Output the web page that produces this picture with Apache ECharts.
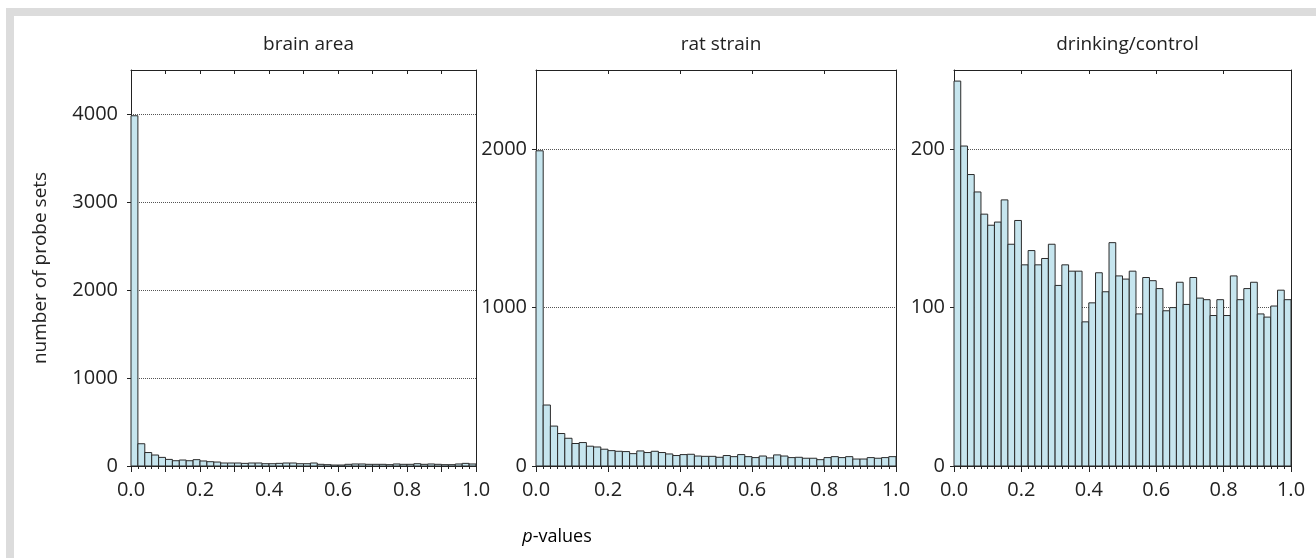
<!DOCTYPE html>
<html><head><meta charset="utf-8">
<script src="https://cdn.jsdelivr.net/npm/echarts@6/dist/echarts.min.js"></script>
<style>html,body{margin:0;padding:0;background:#fff}#c{width:1316px;height:558px}</style>
</head><body><div id="c"></div>
<script>
// bin width 0.02, 50 bins from 0 to 1
var binWidth = 0.02;
var titles = ['brain area', 'rat strain', 'drinking/control'];
var brainArea = [3980, 253, 153, 125, 98, 75, 60, 68, 60, 72, 57, 49, 45, 34, 34, 34, 30, 34, 34, 26,
  26, 30, 34, 34, 26, 26, 34, 19, 15, 11, 11, 19, 23, 23, 19, 19, 19, 15, 23, 19,
  19, 26, 19, 23, 19, 15, 15, 23, 30, 23];
var ratStrain = [1990, 385, 252, 205, 175, 142, 148, 125, 120, 106, 97, 93, 91, 78, 95, 85, 93, 85, 76, 66,
  72, 74, 63, 61, 61, 55, 66, 59, 72, 59, 53, 63, 51, 70, 63, 53, 55, 49, 49, 40,
  53, 59, 53, 59, 44, 44, 53, 49, 53, 59];
var drinkingControl = [243, 202, 184, 173, 159, 152, 154, 168, 140, 155, 127, 136, 127, 131, 140, 114, 127, 123, 123, 91,
  103, 122, 110, 141, 120, 118, 123, 96, 119, 117, 112, 98, 100, 116, 102, 119, 106, 105, 95, 105,
  95, 120, 105, 112, 116, 96, 94, 101, 111, 105];
var yMax = [4500, 2500, 250];
var yInterval = [1000, 1000, 100];
var xMajor = [0.1, 0.2, 0.2];
var xLabels = ['0.0', '0.2', '0.4', '0.6', '0.8', '1.0'];
var yLabelText = 'number of probe sets';
var xLabelItalic = 'p';
var xLabelRest = '-values';

var seriesValues = [brainArea, ratStrain, drinkingControl];
var panels = [
  {left: 131, width: 345, labelMargin: 13},
  {left: 536, width: 360, labelMargin: 9},
  {left: 954, width: 337, labelMargin: 9}
];
var TOP = 70, HEIGHT = 396;
var FONT = '"Open Sans", sans-serif';
var TXT = '#222';

var option = {
  animation: false,
  backgroundColor: '#fff',
  title: [], grid: [], xAxis: [], yAxis: [], series: [],
  graphic: [
    {type: 'rect', shape: {x: 6, y: 8, width: 1310, height: 8}, style: {fill: '#dcdcdc'}, silent: true},
    {type: 'rect', shape: {x: 6, y: 8, width: 8, height: 550}, style: {fill: '#dcdcdc'}, silent: true},
    {type: 'text', x: 41, y: TOP + HEIGHT / 2, rotation: Math.PI / 2,
      style: {text: yLabelText, font: '19px ' + FONT, fill: TXT, align: 'center', verticalAlign: 'middle'}},
    {type: 'text', x: 557, y: 537,
      style: {text: '{i|' + xLabelItalic + '}{n|' + xLabelRest + '}', align: 'center', verticalAlign: 'middle',
        rich: {i: {fontStyle: 'italic', fontSize: 18, fontFamily: FONT, color: TXT},
               n: {fontSize: 18, fontFamily: FONT, color: TXT}}}}
  ]
};

panels.forEach(function (p, k) {
  option.title.push({text: titles[k], left: p.left + p.width / 2, top: 30, textAlign: 'center',
    textStyle: {fontFamily: FONT, fontSize: 19, fontWeight: 'normal', color: TXT}});
  option.grid.push({left: p.left, top: TOP, width: p.width, height: HEIGHT, containLabel: false});
  var ax = {
    type: 'value', gridIndex: k, min: 0, max: 1, interval: xMajor[k], position: 'bottom',
    axisLine: {show: true, onZero: false, lineStyle: {color: '#222', width: 1}},
    axisTick: {show: true, length: 6, inside: false, lineStyle: {color: '#222'}},
    minorTick: {show: true, splitNumber: Math.round(xMajor[k] / binWidth), length: 3, lineStyle: {color: '#222'}},
    axisLabel: {margin: 14, fontFamily: FONT, fontSize: 20, color: TXT,
      formatter: function (v) {
        var s = v.toFixed(1);
        return xLabels.indexOf(s) >= 0 && Math.round(v * 10) % 2 === 0 ? s : '';
      }},
    splitLine: {show: false}
  };
  var axTop = {
    type: 'value', gridIndex: k, min: 0, max: 1, interval: xMajor[k], position: 'top',
    axisLine: {show: true, onZero: false, lineStyle: {color: '#222', width: 1}},
    axisTick: {show: true, inside: true, length: 4, lineStyle: {color: '#222'}},
    axisLabel: {show: false}, splitLine: {show: false}
  };
  option.xAxis.push(ax, axTop);
  var yl = {
    type: 'value', gridIndex: k, min: 0, max: yMax[k], interval: yInterval[k], position: 'left',
    axisLine: {show: true, onZero: false, lineStyle: {color: '#222', width: 1}},
    axisTick: {show: true, length: 4, lineStyle: {color: '#222'}},
    axisLabel: {margin: p.labelMargin, fontFamily: FONT, fontSize: 20, color: TXT, showMaxLabel: false,
      formatter: function (v) { return (v % yInterval[k] === 0) ? String(v) : ''; }},
    splitLine: {show: true, showMinLine: false, showMaxLine: false, lineStyle: {color: '#555', type: [1, 1], width: 1}}
  };
  var yr = {
    type: 'value', gridIndex: k, min: 0, max: yMax[k], interval: yInterval[k], position: 'right',
    axisLine: {show: true, onZero: false, lineStyle: {color: '#222', width: 1}},
    axisTick: {show: false}, axisLabel: {show: false}, splitLine: {show: false}
  };
  option.yAxis.push(yl, yr);
  var data = seriesValues[k].map(function (v, i) {
    return [i * binWidth, (i + 1) * binWidth, v];
  });
  option.series.push({
    type: 'custom', xAxisIndex: 2 * k, yAxisIndex: 2 * k, data: data,
    encode: {x: [0, 1], y: 2},
    renderItem: function (params, api) {
      var a = api.coord([api.value(0), api.value(2)]);
      var b = api.coord([api.value(1), 0]);
      return {type: 'rect',
        shape: {x: a[0], y: a[1], width: b[0] - a[0], height: b[1] - a[1]},
        style: {fill: '#c6e5ee', stroke: '#2a2a2a', lineWidth: 1}};
    }
  });
});

var chart = echarts.init(document.getElementById('c'), null, {renderer: 'canvas'});
chart.setOption(option);
</script></body></html>
